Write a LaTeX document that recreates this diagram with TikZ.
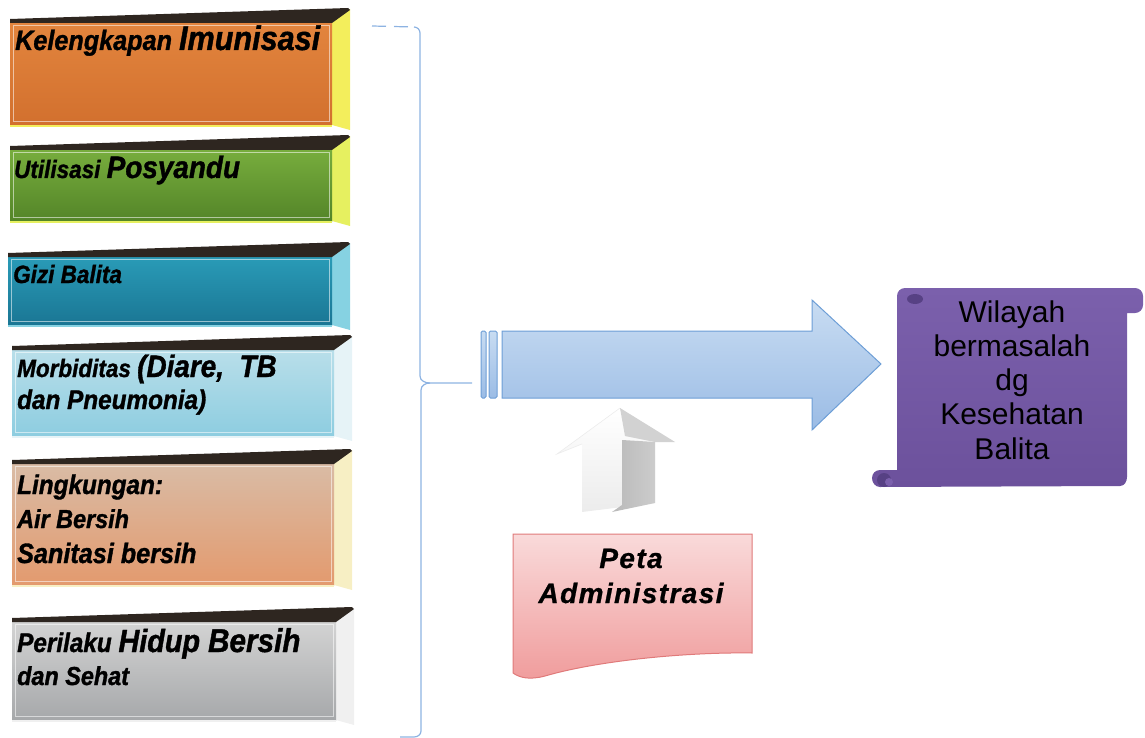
\documentclass[tikz,border=0pt]{standalone}
\usepackage{fontspec}
\setmainfont{Liberation Sans}
\newfontfamily\bxf{Liberation Sans Bold Italic}[FakeStretch=0.9,FakeBold=1.2]
\newfontfamily\pxf{Liberation Sans Bold Italic}[LetterSpace=5,FakeBold=0.8]
\usetikzlibrary{calc}
\definecolor{topdark}{HTML}{2E2620}
\definecolor{orA}{HTML}{E3853E}\definecolor{orB}{HTML}{D2702E}\definecolor{orS}{HTML}{F3EE5C}
\definecolor{grA}{HTML}{78AE3E}\definecolor{grB}{HTML}{548528}\definecolor{grS}{HTML}{E6F060}
\definecolor{teA}{HTML}{2A9CB8}\definecolor{teB}{HTML}{1A7694}\definecolor{teS}{HTML}{86D2E2}
\definecolor{lbA}{HTML}{BADFEA}\definecolor{lbB}{HTML}{8DCDE0}\definecolor{lbS}{HTML}{E6F3F7}
\definecolor{peA}{HTML}{D9BCA6}\definecolor{peB}{HTML}{E39A6E}\definecolor{peS}{HTML}{F7EFC4}
\definecolor{gyA}{HTML}{D4D4D4}\definecolor{gyB}{HTML}{A6A8AA}\definecolor{gyS}{HTML}{F0F0F0}
\definecolor{braceblue}{HTML}{8DB3E2}
\definecolor{arrA}{HTML}{C8DCF2}\definecolor{arrB}{HTML}{9BBCE5}\definecolor{arrE}{HTML}{6D9ED6}
\definecolor{docA}{HTML}{F9DADA}\definecolor{docB}{HTML}{F09C9C}\definecolor{docE}{HTML}{E07A7A}
\definecolor{purA}{HTML}{7B60AC}\definecolor{purB}{HTML}{6C519C}\definecolor{purD}{HTML}{574184}
\newcommand\fs[1]{\fontsize{#1}{#1}\selectfont}
\newcommand\threedbox[7]{%
  \fill[#7] (#2,#3) -- (#2+18,#3-12) -- (#2+18,#4+5) -- (#2,#4) -- cycle;
  \shade[top color=#5,bottom color=#6] (#1,#3) rectangle (#2,#4);
  \draw[white,opacity=.55,line width=.8] (#1+3,#3+4) rectangle (#2-3,#4-4);
  \draw[#7,line width=2.5] (#1,#4+1) -- (#2,#4+1);
  \fill[topdark] (#1,#3-2) -- (#2+16,#3-13) -- (#2+18,#3-11) -- (#2,#3+2) -- (#1,#3+2) -- cycle;
}
\tikzset{
  boxtext/.style={anchor=base west,inner sep=0,font=\bxf\fs{27}},
  scrolltext/.style={anchor=base,inner sep=0,font=\fs{30}},
  brace/.style={braceblue,line width=1.2},
}
\begin{document}
\begin{tikzpicture}[x=1pt,y=-1pt]
\useasboundingbox (0,0) rectangle (1145,738);
% left boxes
\threedbox{10}{332}{21}{125}{orA}{orB}{orS}
\threedbox{10}{332}{148}{221}{grA}{grB}{grS}
\threedbox{8}{332}{255}{325}{teA}{teB}{teS}
\threedbox{12}{334}{348}{436}{lbA}{lbB}{lbS}
\threedbox{12}{334}{462}{585}{peA}{peB}{peS}
\threedbox{12}{336}{620}{720}{gyA}{gyB}{gyS}
\node[boxtext] (t1) at (15,50) {\fs{28}Kelengkapan \fs{34}Imunisasi};
\node[boxtext] (t2) at (14,178) {\fs{25}Utilisasi \fs{31}Posyandu};
\node[boxtext] (t3) at (13,283) {\fs{25}Gizi Balita};
\node[boxtext] (t4a) at (17,377) {\fs{25}Morbiditas \fs{31}(Diare,\ \ TB};
\node[boxtext] (t4b) at (17,409) {\fs{27}dan Pneumonia)};
\node[boxtext] (t5a) at (17,494) {Lingkungan:};
\node[boxtext] (t5b) at (17,528) {\fs{26}Air Bersih};
\node[boxtext] (t5c) at (17,563) {\fs{28}Sanitasi bersih};
\node[boxtext] (t6a) at (17,652) {\fs{27}Perilaku \fs{32}Hidup \fs{33}Bersih};
\node[boxtext] (t6b) at (17,685) {\fs{26}dan Sehat};
% brace
\coordinate (brtop) at (372,26);
\coordinate (brbot) at (400,737);
\coordinate (brmid) at (472,383);
\draw[brace,dash pattern=on 14pt off 8pt] (brtop) -- (414,27);
\draw[brace] (414,27) to[out=0,in=90] (420,33) -- (420,376) to[out=-90,in=180] (430,383) -- (brmid);
\draw[brace] (430,383) to[out=180,in=90] (421,390) -- (421,731) to[out=-90,in=0] (414,737) -- (brbot);
% main arrow
\shade[top color=arrA,bottom color=arrB,draw=arrE,line width=1,rounded corners=1.5] (481,331) rectangle (486,398);
\shade[top color=arrA,bottom color=arrB,draw=arrE,line width=1,rounded corners=1.5] (489,331) rectangle (497,398);
\shade[top color=arrA,bottom color=arrB,draw=arrE,line width=1]
  (502,331) -- (812,331) -- (812,300) -- (881,364) -- (812,430) -- (812,398) -- (502,398) -- cycle;
\coordinate (arrtip) at (881,364);
% up arrow (3D)
\shade[top color=white,bottom color=gray!15] (582,512) -- (582,444) -- (557,454) -- (620,408) -- (675,442) -- (655,442) -- (655,503) -- cycle;
\fill[gray!35] (620,408) -- (675,442) -- (655,442) -- (625,436) -- cycle;
\shade[left color=gray!55,right color=gray!40] (622,440) -- (655,442) -- (655,503) -- (612,512) -- (622,505) -- cycle;
\draw[white!85!gray,line width=.6] (582,444) -- (557,454) -- (620,408);
% document
\shade[top color=docA,bottom color=docB,draw=docE,line width=1]
  (513,534) -- (752,534) -- (752,653) .. controls (690,652) and (600,660) .. (545,676)
  .. controls (530,680) and (520,678) .. (513,673) -- cycle;
\node[inner sep=0,anchor=base,font=\pxf\fs{28}] (peta1) at (631,568) {Peta};
\node[inner sep=0,anchor=base,font=\pxf\fs{28}] (peta2) at (631,603) {Administrasi};
% scroll
\shade[top color=purA,bottom color=purB]
  (905,288) -- (1135,288) to[out=0,in=90] (1143,296) -- (1143,305) to[out=-90,in=0] (1135,313) -- (1127,313)
  -- (1127,477) to[out=-90,in=0] (1120,486) -- (880,487) to[out=180,in=-90] (872,478) to[out=90,in=180] (880,470)
  -- (897,470) -- (897,296) to[out=90,in=180] (905,288) -- cycle;
\fill[purD] (915,299) ellipse (8 and 5);
\fill[purD] (884,480) circle (7);
\fill[purA] (889,482) circle (4);
\node[scrolltext] (w1) at (1012,322) {Wilayah};
\node[scrolltext] (w2) at (1012,356) {bermasalah};
\node[scrolltext] (w3) at (1012,390) {dg};
\node[scrolltext] (w4) at (1012,424) {Kesehatan};
\node[scrolltext] (w5) at (1012,459) {Balita};
\end{tikzpicture}
\end{document}
